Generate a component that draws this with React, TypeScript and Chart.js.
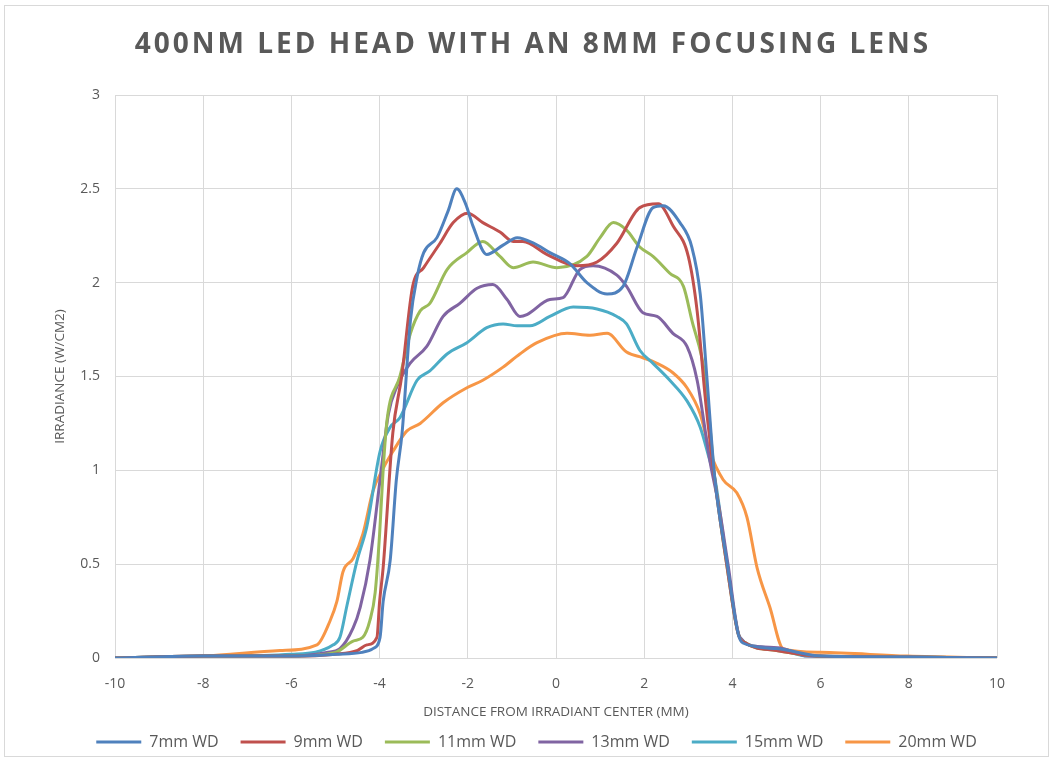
import React, { useEffect, useRef } from "react";
import { Chart, registerables } from "chart.js";

Chart.register(...registerables);

const TITLE = "400NM LED HEAD WITH AN 8MM FOCUSING LENS";
const X_TITLE = "DISTANCE FROM IRRADIANT CENTER (MM)";
const Y_TITLE = "IRRADIANCE (W/CM2)";
const SERIES_NAMES = ["7mm WD", "9mm WD", "11mm WD", "13mm WD", "15mm WD", "20mm WD"];
const SERIES_COLORS = ["#4F81BD", "#C0504D", "#9BBB59", "#8064A2", "#4BACC6", "#F79646"];

const X_7 = [-10, -8, -6, -5, -4.4, -4.15, -3.99, -3.92, -3.76, -3.62, -3.49, -3.3, -3.15, -3.0, -2.7, -2.45, -2.25, -2.05, -1.88, -1.57, -1.2, -0.88, -0.5, -0.14, 0.32, 0.7, 1.16, 1.52, 1.84, 2.2, 2.43, 2.81, 3.08, 3.27, 3.42, 3.6, 3.87, 4.13, 4.24, 5.0, 6, 8, 10];
const Y_7 = [0, 0.01, 0.01, 0.02, 0.03, 0.05, 0.11, 0.3, 0.52, 0.95, 1.2, 1.8, 2.03, 2.16, 2.24, 2.38, 2.5, 2.42, 2.3, 2.15, 2.2, 2.24, 2.21, 2.16, 2.1, 2.0, 1.94, 1.98, 2.19, 2.4, 2.41, 2.32, 2.19, 1.94, 1.5, 0.96, 0.52, 0.13, 0.08, 0.05, 0.01, 0.005, 0];

const X_9 = [-10, -8, -6, -5, -4.5, -4.29, -4.06, -4.0, -3.92, -3.7, -3.5, -3.25, -3.0, -2.63, -2.33, -2.0, -1.66, -1.27, -0.97, -0.75, -0.2, 0.47, 0.93, 1.38, 1.9, 2.32, 2.66, 3.0, 3.2, 3.4, 3.6, 3.87, 4.13, 4.3, 5.0, 6, 8, 10];
const Y_9 = [0, 0.01, 0.01, 0.02, 0.04, 0.07, 0.11, 0.3, 0.48, 1.2, 1.5, 1.98, 2.08, 2.21, 2.32, 2.37, 2.32, 2.27, 2.22, 2.22, 2.15, 2.09, 2.11, 2.21, 2.4, 2.42, 2.3, 2.14, 1.85, 1.35, 0.95, 0.5, 0.13, 0.08, 0.04, 0.01, 0.005, 0];

const X_11 = [-10, -8, -6, -5, -4.6, -4.38, -4.22, -4.1, -4.0, -3.92, -3.83, -3.54, -3.3, -3.08, -2.86, -2.47, -2.02, -1.66, -1.27, -0.97, -0.52, 0.02, 0.7, 1.0, 1.3, 1.6, 1.9, 2.2, 2.58, 2.89, 3.08, 3.38, 3.6, 3.87, 4.13, 4.3, 5.0, 6, 8, 10];
const Y_11 = [0, 0.01, 0.01, 0.03, 0.09, 0.11, 0.2, 0.35, 0.66, 1.0, 1.27, 1.5, 1.73, 1.85, 1.89, 2.07, 2.16, 2.22, 2.14, 2.08, 2.11, 2.08, 2.14, 2.24, 2.32, 2.28, 2.19, 2.14, 2.05, 1.98, 1.8, 1.5, 0.96, 0.5, 0.13, 0.08, 0.04, 0.01, 0.005, 0];

const X_13 = [-10, -8, -6, -5.2, -4.9, -4.6, -4.44, -4.22, -4.0, -3.8, -3.6, -3.31, -2.93, -2.56, -2.18, -1.79, -1.43, -1.11, -0.82, -0.66, -0.14, 0.16, 0.54, 0.84, 1.38, 1.6, 1.97, 2.29, 2.65, 2.97, 3.2, 3.49, 3.7, 3.9, 4.17, 4.63, 5.15, 5.7, 8, 10];
const Y_13 = [0, 0.01, 0.01, 0.03, 0.05, 0.16, 0.27, 0.52, 0.93, 1.3, 1.45, 1.57, 1.66, 1.82, 1.89, 1.97, 1.99, 1.91, 1.82, 1.83, 1.91, 1.92, 2.07, 2.09, 2.04, 1.98, 1.84, 1.82, 1.73, 1.66, 1.48, 1.05, 0.8, 0.5, 0.11, 0.06, 0.05, 0.01, 0.005, 0];

const X_15 = [-10, -8, -6, -5.05, -4.9, -4.74, -4.51, -4.29, -3.99, -3.76, -3.54, -3.15, -2.86, -2.47, -2.02, -1.57, -1.2, -0.88, -0.59, -0.14, 0.39, 0.93, 1.38, 1.6, 1.9, 2.2, 2.58, 2.97, 3.27, 3.49, 3.6, 3.87, 4.17, 4.63, 5.15, 5.7, 8, 10];
const Y_15 = [0, 0.01, 0.02, 0.07, 0.11, 0.28, 0.52, 0.7, 1.1, 1.23, 1.28, 1.48, 1.53, 1.62, 1.68, 1.76, 1.78, 1.77, 1.77, 1.82, 1.87, 1.86, 1.82, 1.78, 1.64, 1.57, 1.48, 1.37, 1.23, 1.05, 0.96, 0.52, 0.11, 0.06, 0.04, 0.01, 0.005, 0];

const X_20 = [-10, -8, -6.26, -5.42, -5.12, -4.97, -4.83, -4.6, -4.38, -4.15, -3.92, -3.7, -3.38, -3.08, -2.56, -2.02, -1.66, -1.2, -0.82, -0.43, 0.25, 0.77, 1.16, 1.6, 1.97, 2.29, 2.65, 2.97, 3.27, 3.49, 3.79, 4.1, 4.33, 4.56, 4.85, 5.15, 5.99, 7.96, 10];
const Y_20 = [0, 0.01, 0.04, 0.07, 0.2, 0.3, 0.46, 0.53, 0.66, 0.89, 1.01, 1.1, 1.21, 1.25, 1.36, 1.44, 1.48, 1.55, 1.62, 1.68, 1.73, 1.72, 1.73, 1.63, 1.6, 1.57, 1.52, 1.44, 1.3, 1.1, 0.95, 0.88, 0.75, 0.48, 0.27, 0.05, 0.03, 0.01, 0];

const X_SERIES = [X_7, X_9, X_11, X_13, X_15, X_20];
const Y_SERIES = [Y_7, Y_9, Y_11, Y_13, Y_15, Y_20];

const X_MIN = -10;
const X_MAX = 10;
const X_STEP = 2;
const Y_MIN = 0;
const Y_MAX = 3;
const Y_STEP = 0.5;

const TEXT_COLOR = "#595959";
const GRID_COLOR = "#d9d9d9";
const FONT = "'Open Sans', sans-serif";

const titlePlugin = {
  id: "spacedTitle",
  afterDraw(chart: any) {
    const ctx = chart.ctx;
    ctx.save();
    ctx.font = `bold 28px ${FONT}`;
    ctx.fillStyle = TEXT_COLOR;
    ctx.textAlign = "center";
    ctx.textBaseline = "middle";
    (ctx as any).letterSpacing = "3px";
    ctx.fillText(TITLE, 533, 45);
    ctx.restore();
  },
};

const borderPlugin = {
  id: "outerBorder",
  beforeDraw(chart: any) {
    const ctx = chart.ctx;
    ctx.save();
    ctx.fillStyle = "#ffffff";
    ctx.fillRect(0, 0, chart.width, chart.height);
    ctx.strokeStyle = "#d9d9d9";
    ctx.lineWidth = 1;
    ctx.strokeRect(4.5, 5.5, chart.width - 9, chart.height - 9);
    ctx.restore();
  },
};

const LEGEND_SHIFT = 38;
const legendShiftPlugin = {
  id: "legendShift",
  afterLayout(chart: any) {
    const lg = chart.legend;
    if (lg) {
      lg.left += LEGEND_SHIFT;
      lg.right += LEGEND_SHIFT;
    }
  },
};

export default function App() {
  const canvasRef = useRef<HTMLCanvasElement | null>(null);

  useEffect(() => {
    if (!canvasRef.current) return;
    const datasets = SERIES_NAMES.map((name, i) => ({
      label: name,
      data: X_SERIES[i].map((x, j) => ({ x, y: Y_SERIES[i][j] })),
      borderColor: SERIES_COLORS[i],
      backgroundColor: SERIES_COLORS[i],
      borderWidth: 3,
      pointRadius: 0,
      pointHoverRadius: 0,
      fill: false,
      cubicInterpolationMode: "monotone" as const,
      pointStyle: "line" as const,
    }));

    const chart = new Chart(canvasRef.current, {
      type: "line",
      data: { datasets },
      plugins: [borderPlugin, titlePlugin, legendShiftPlugin],
      options: {
        animation: false,
        responsive: false,
        maintainAspectRatio: false,
        layout: { padding: { top: 95, right: 56, left: 0, bottom: 0 } },
        plugins: {
          title: { display: false },
          tooltip: { enabled: false },
          legend: {
            position: "bottom",
            labels: {
              usePointStyle: true,
              pointStyle: "line",
              pointStyleWidth: 45,
              color: TEXT_COLOR,
              font: { family: FONT, size: 16 },
              padding: 22,
            },
          },
        },
        scales: {
          x: {
            type: "linear",
            min: X_MIN,
            max: X_MAX,
            ticks: {
              stepSize: X_STEP,
              color: TEXT_COLOR,
              font: { family: FONT, size: 14 },
              padding: 18,
              maxRotation: 0,
            },
            grid: { color: GRID_COLOR, drawTicks: false },
            border: { display: false },
            title: {
              display: true,
              text: X_TITLE,
              color: TEXT_COLOR,
              font: { family: FONT, size: 13.5 },
              padding: { top: 0, bottom: -8 },
            },
            afterFit: (scale: any) => {
              scale.height = 54;
            },
          },
          y: {
            type: "linear",
            min: Y_MIN,
            max: Y_MAX,
            ticks: {
              stepSize: Y_STEP,
              color: TEXT_COLOR,
              font: { family: FONT, size: 14 },
              padding: 15,
              callback: (v: any) => String(v),
            },
            grid: { color: GRID_COLOR, drawTicks: false },
            border: { display: false },
            title: {
              display: true,
              text: Y_TITLE,
              color: TEXT_COLOR,
              font: { family: FONT, size: 13.5 },
              padding: { top: 52, bottom: 0 },
            },
            afterFit: (scale: any) => {
              scale.width = 115;
            },
          },
        },
      },
    });
    return () => chart.destroy();
  }, []);

  return (
    <div style={{ position: "fixed", left: 0, top: 0, width: 1053, height: 760, background: "#fff" }}>
      <canvas ref={canvasRef} width={1053} height={760} style={{ width: 1053, height: 760, display: "block" }} />
    </div>
  );
}
